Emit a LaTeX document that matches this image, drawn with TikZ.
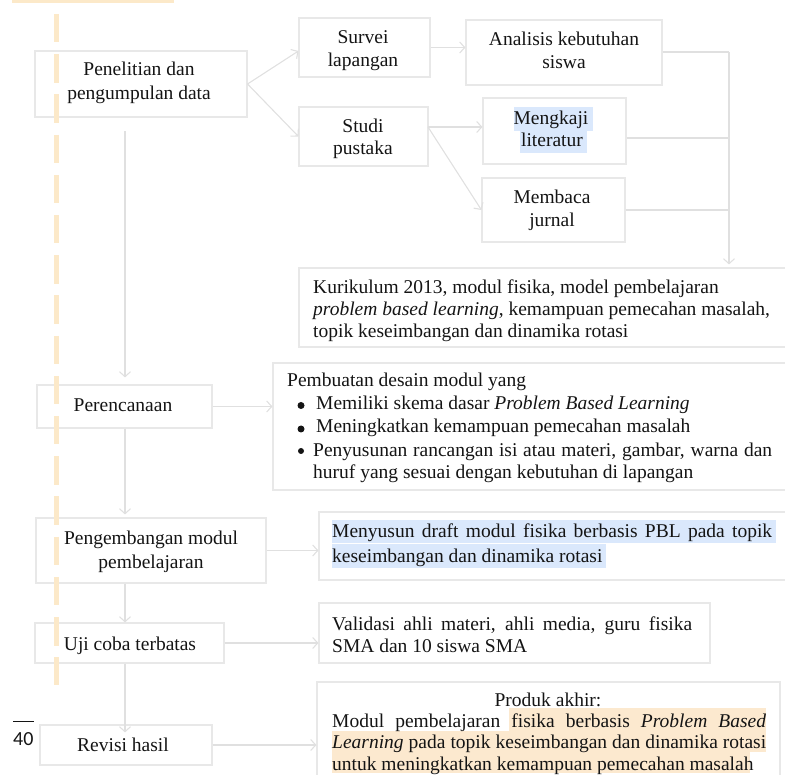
\documentclass[tikz,border=0pt]{standalone}
\usepackage{fontspec}
\setmainfont{Liberation Serif}
\newfontfamily\numfont{Carlito}
\usetikzlibrary{arrows.meta}
\definecolor{boxgray}{HTML}{E8E8E8}
\definecolor{linegray}{HTML}{E0E0E0}
\definecolor{dashc}{HTML}{FCE9C9}
\definecolor{hlblue}{HTML}{DAE8FC}
\definecolor{hlorange}{HTML}{FCE9CF}
\definecolor{txtc}{HTML}{141414}
\newcommand\myfs{\fontsize{19.5}{23.5}\selectfont}
\begin{document}
\begin{tikzpicture}[x=1pt,y=-1pt,
  bx/.style={draw=boxgray, line width=1.1pt, inner sep=0pt},
  tl/.style={inner sep=0pt, anchor=base west, font=\myfs, text=txtc},
  tc/.style={inner sep=0pt, anchor=base, font=\myfs, text=txtc},
  bul/.style={circle, fill=txtc, inner sep=0pt, minimum size=#1},
  conn/.style={draw=linegray, line width=1.1pt, -{Straight Barb[length=5pt,width=11pt]}},
  plain/.style={draw=linegray, line width=1.1pt}]
\useasboundingbox (0,0) rectangle (785,775);
% highlights
\fill[hlblue] (514,107) rectangle (593,131);
\fill[hlblue] (520,131) rectangle (587,153);
\fill[hlblue] (332,520) rectangle (776,543);
\fill[hlblue] (332,544) rectangle (606,568);
\fill[hlorange] (509,708) rectangle (766,731);
\fill[hlorange] (332,731) rectangle (766,752);
\fill[hlorange] (332,752) rectangle (750,773);
% boxes
\node[bx, minimum width=212pt, minimum height=66pt] (pen) at (141,84) {};
\node[bx, minimum width=131pt, minimum height=59pt] (sur) at (364.5,47.5) {};
\node[bx, minimum width=129pt, minimum height=59pt] (stu) at (363.5,136.5) {};
\node[bx, minimum width=196pt, minimum height=65pt] (ana) at (564,52.5) {};
\node[bx, minimum width=143pt, minimum height=66pt] (mkj) at (554.5,131) {};
\node[bx, minimum width=143pt, minimum height=64pt] (mbc) at (553.5,210) {};
\node[bx, minimum width=496pt, minimum height=79pt] (kur) at (547,307.5) {};
\node[bx, minimum width=522pt, minimum height=127pt] (pem) at (534,426.5) {};
\node[bx, minimum width=175pt, minimum height=43pt] (per) at (124.5,406.5) {};
\node[bx, minimum width=230pt, minimum height=65pt] (peng) at (151,550.5) {};
\node[bx, minimum width=476pt, minimum height=68pt] (mny) at (557,546) {};
\node[bx, minimum width=189pt, minimum height=40pt] (uji) at (129.5,643) {};
\node[bx, minimum width=391pt, minimum height=60pt] (val) at (514.5,633) {};
\node[bx, minimum width=172pt, minimum height=40pt] (rev) at (126,745) {};
\node[bx, minimum width=463pt, minimum height=108pt] (prd) at (548.5,736) {};
% box texts
\node[tc] (pen1) at (139,76) {Penelitian dan};
\node[tc] (pen2) at (139,100) {pengumpulan data};
\node[tc] (sur1) at (363,44) {Survei};
\node[tc] (sur2) at (363,67) {lapangan};
\node[tc] (stu1) at (363,133) {Studi};
\node[tc] (stu2) at (363,155) {pustaka};
\node[tc] (ana1) at (564,46) {Analisis kebutuhan};
\node[tc] (ana2) at (564,69) {siswa};
\node[tc] (mkj1) at (551,125) {Mengkaji};
\node[tc] (mkj2) at (552,147) {literatur};
\node[tc] (mbc1) at (552,204) {Membaca};
\node[tc] (mbc2) at (552,227) {jurnal};
\node[tc] (per1) at (123,412) {Perencanaan};
\node[tc] (peng1) at (151,544) {Pengembangan modul};
\node[tc] (peng2) at (151,568) {pembelajaran};
\node[tc] (uji1) at (130,650) {Uji coba terbatas};
\node[tc] (rev1) at (123,751) {Revisi hasil};
% right texts
\node[tl] (kur1) at (313,294) {Kurikulum 2013, modul fisika, model pembelajaran};
\node[tl] (kur2) at (313,316) {\textit{problem based learning}, kemampuan pemecahan masalah,};
\node[tl] (kur3) at (313,338) {topik keseimbangan dan dinamika rotasi};
\node[tl] (pem0) at (287,387) {Pembuatan desain modul yang};
\node[bul=7pt] (b1) at (301,405.5) {};
\node[tl] (pem1) at (316,410) {Memiliki skema dasar \textit{Problem Based Learning}};
\node[bul=7pt] (b2) at (301,429) {};
\node[tl] (pem2) at (316,433) {Meningkatkan kemampuan pemecahan masalah};
\node[bul=6pt] (b3) at (301,451) {};
\node[tl] (pem3) at (313,456.5) {\makebox[459pt][s]{Penyusunan rancangan isi atau materi, gambar, warna dan}};
\node[tl] (pem4) at (313,479) {huruf yang sesuai dengan kebutuhan di lapangan};
\node[tl] (mny1) at (332,537) {\makebox[440pt][s]{Menyusun draft modul fisika berbasis PBL pada topik}};
\node[tl] (mny2) at (332,562) {keseimbangan dan dinamika rotasi};
\node[tl] (val1) at (332,630) {\makebox[360pt][s]{Validasi ahli materi, ahli media, guru fisika}};
\node[tl] (val2) at (332,652) {SMA dan 10 siswa SMA};
\node[tc] (prd0) at (548,706) {Produk akhir:};
\node[tl] (prd1) at (332,727) {\makebox[434pt][s]{Modul pembelajaran fisika berbasis \textit{Problem} \textit{Based}}};
\node[tl] (prd2) at (332,748) {\makebox[434pt][s]{\textit{Learning} pada topik keseimbangan dan dinamika rotasi}};
\node[tl] (prd3) at (332,770) {untuk meningkatkan kemampuan pemecahan masalah};
% connectors
\coordinate (sJ) at (428,127);
\coordinate (pd) at (125,131);
\coordinate (cA) at (729,52);
\coordinate (cM) at (729,138);
\coordinate (cB) at (729,210);
\draw[conn] (pen.east) -- ([yshift=-3.5pt]sur.west);
\draw[conn] (pen.east) -- (stu.west);
\draw[conn] (sur.east) -- (sur.east -| ana.west);
\draw[conn] (sJ) -- (sJ -| mkj.west);
\draw[conn] (sJ) -- (mbc.west);
\draw[plain] (ana.east |- cA) -- (cA);
\draw[plain] (mkj.east |- cM) -- (cM);
\draw[plain] (mbc.east |- cB) -- (cB);
\draw[conn] (cA) -- ([yshift=3pt]kur.north -| cA);
\draw[conn] (pd) -- ([yshift=7pt]per.north -| pd);
\draw[conn] (per.east) -- (per.east -| pem.west);
\draw[conn] (per.south -| pd) -- ([yshift=3pt]peng.north -| pd);
\draw[conn] (peng.east) -- (peng.east -| mny.west);
\draw[conn] (peng.south -| pd) -- (uji.north -| pd);
\draw[conn] (uji.east) -- (uji.east -| val.west);
\draw[conn] (uji.south -| pd) -- ([yshift=-8pt]rev.north -| pd);
\draw[conn] (rev.east) -- (rev.east -| prd.west);
% orange decorations
\fill[dashc] (12,0) rectangle (174,3.5);
\draw[dashc, line width=5.5pt, dash pattern=on 28.5pt off 11.7pt] (56.3,14) -- (56.3,685);
% page number
\node[inner sep=0pt, anchor=base west, font=\numfont\fontsize{20}{24}\selectfont, text=txtc] (pg) at (13,745) {40};
\coordinate (pgl) at (13,721);
\draw[txtc, line width=0.9pt] (pgl) -- (pgl -| pg.east);
\end{tikzpicture}
\end{document}
